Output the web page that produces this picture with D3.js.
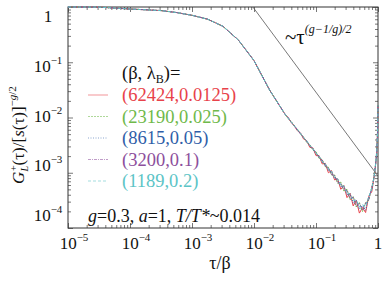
<!DOCTYPE html>
<html>
<head>
<meta charset="utf-8">
<script src="https://cdn.jsdelivr.net/npm/d3@7"></script>
<style>
    body { margin: 0; background: #fff; }
    svg { display: block; }
    svg text { font-family: "Liberation Serif", "Times New Roman", Times, "DejaVu Serif", serif; }
</style>
</head>
<body>
<svg id="chart" width="390" height="282"></svg>
<script>
// values: log10(tau/beta) and log10(G)
var headTau = [-5, -4.5, -4, -3.5, -3.25, -3, -2.75, -2.5, -2.25, -2, -1.75, -1.5];
var headLogG = [0, -0.002, -0.036, -0.065, -0.10, -0.15, -0.22, -0.35, -0.60, -0.97, -1.50, -1.94];

var tailTau = [-1.45, -1.4, -1.35, -1.3, -1.25, -1.2, -1.15, -1.1, -1.05, -1.0,
    -0.95, -0.9, -0.85, -0.8, -0.75, -0.7, -0.65, -0.6, -0.55, -0.5,
    -0.45, -0.4, -0.35, -0.3, -0.25, -0.2, -0.15, -0.1,
    -0.07, -0.05, -0.03, -0.02, -0.01, -0.005, 0];

var redTail = [-2.00, -2.09, -2.15, -2.24, -2.28, -2.39, -2.42, -2.54, -2.55, -2.69,
    -2.69, -2.84, -2.83, -3.00, -2.96, -3.13, -3.11, -3.30, -3.23, -3.45,
    -3.37, -3.60, -3.50, -3.73, -3.63, -3.72, -3.43, -3.34,
    -3.13, -2.98, -2.76, -2.61, -2.36, -2.15, -1.78];
var greenTail = [-2.02, -2.07, -2.16, -2.21, -2.30, -2.35, -2.45, -2.49, -2.59, -2.62,
    -2.74, -2.76, -2.89, -2.90, -3.04, -3.04, -3.19, -3.17, -3.33, -3.30,
    -3.49, -3.43, -3.62, -3.54, -3.70, -3.54, -3.50, -3.26,
    -3.11, -2.96, -2.75, -2.59, -2.35, -2.14, -1.77];
var blueTail = [-2.01, -2.09, -2.14, -2.23, -2.28, -2.37, -2.42, -2.52, -2.56, -2.66,
    -2.70, -2.81, -2.84, -2.96, -2.98, -3.10, -3.12, -3.25, -3.24, -3.40,
    -3.38, -3.55, -3.50, -3.66, -3.59, -3.68, -3.44, -3.30,
    -3.12, -2.97, -2.75, -2.60, -2.35, -2.15, -1.78];
var purpleTail = [-2.00, -2.08, -2.16, -2.22, -2.30, -2.36, -2.44, -2.50, -2.58, -2.63,
    -2.73, -2.77, -2.88, -2.91, -3.03, -3.05, -3.18, -3.19, -3.31, -3.32,
    -3.47, -3.44, -3.60, -3.55, -3.68, -3.55, -3.49, -3.27,
    -3.12, -2.96, -2.75, -2.60, -2.35, -2.15, -1.78];
var cyanTail = [-2.01, -2.08, -2.15, -2.22, -2.29, -2.37, -2.42, -2.51, -2.56, -2.65,
    -2.70, -2.80, -2.84, -2.94, -2.97, -3.09, -3.11, -3.23, -3.24, -3.37,
    -3.38, -3.51, -3.49, -3.62, -3.58, -3.61, -3.44, -3.29,
    -3.12, -2.97, -2.75, -2.60, -2.35, -2.15, -1.78];

var seriesNames = ["(62424,0.0125)", "(23190,0.025)", "(8615,0.05)", "(3200,0.1)", "(1189,0.2)"];
var seriesColors = ["#e8424a", "#6fb94a", "#2f5ea8", "#8d4f9c", "#5cc4c6"];
var seriesDash = [null, "2,1", "1,1.5", "3,1,1,1", "3,2"];
var seriesTails = [redTail, greenTail, blueTail, purpleTail, cyanTail];

// guide line ~ tau^((g-1/g)/2)
var guideTau = [0.0096, 1];
var guideG = [1, 8.7e-4];

var xMajor = [1e-5, 1e-4, 1e-3, 1e-2, 1e-1, 1];
var yMajor = [1, 1e-1, 1e-2, 1e-3, 1e-4];

var svg = d3.select("#chart");
var pL = 68, pR = 378, pT = 7, pB = 228;

var x = d3.scaleLog().domain([1e-5, 1]).range([pL, pR]);
var y = d3.scaleLog().domain([1e-4, 1]).range([pB, pT]);
// tick labels sit a bit apart from their ticks in the original
var yLab = d3.scaleLog().domain([1, 1e-4]).range([16, 215]);

function minorTicks(majors) {
    var out = [];
    majors.forEach(function (m) {
        for (var k = 1; k < 10; k++) out.push(m * k);
    });
    return out;
}
var xTicks = minorTicks(xMajor.slice(0, 5)).concat([1]);
var yTicks = minorTicks([1e-4, 1e-3, 1e-2, 1e-1]).concat([1]);
function isMajor(v) {
    var l = Math.log10(v);
    return Math.abs(l - Math.round(l)) < 1e-6;
}

// inward ticks on all four sides
var gB = svg.append("g").attr("transform", "translate(0," + pB + ")")
    .call(d3.axisBottom(x).tickValues(xTicks).tickFormat("").tickSizeOuter(0));
gB.selectAll(".tick line").attr("y2", function (d) { return isMajor(d) ? -5 : -3; });
var gT = svg.append("g").attr("transform", "translate(0," + pT + ")")
    .call(d3.axisTop(x).tickValues(xTicks).tickFormat("").tickSizeOuter(0));
gT.selectAll(".tick line").attr("y2", function (d) { return isMajor(d) ? 5 : 3; });
var gL = svg.append("g").attr("transform", "translate(" + pL + ",0)")
    .call(d3.axisLeft(y).tickValues(yTicks).tickFormat("").tickSizeOuter(0));
gL.selectAll(".tick line").attr("x2", function (d) { return isMajor(d) ? 5 : 3; });
var gR = svg.append("g").attr("transform", "translate(" + pR + ",0)")
    .call(d3.axisRight(y).tickValues(yTicks).tickFormat("").tickSizeOuter(0));
gR.selectAll(".tick line").attr("x2", function (d) { return isMajor(d) ? -5 : -3; });

[gB, gT, gL, gR].forEach(function (g) {
    g.select(".domain").remove();
    g.selectAll(".tick line").attr("stroke", "#555").attr("stroke-width", 0.8);
});

svg.append("rect")
    .attr("x", pL).attr("y", pT)
    .attr("width", pR - pL).attr("height", pB - pT)
    .attr("fill", "none").attr("stroke", "#333").attr("stroke-width", 1);

// power of ten labels
function powLabel(sel, v) {
    var e = Math.round(Math.log10(v));
    if (e === 0) { sel.text("1"); return; }
    sel.append("tspan").text("10");
    sel.append("tspan").attr("dy", -8).attr("font-size", 11).text("\u2212" + (-e));
}

xMajor.forEach(function (v) {
    var t = svg.append("text")
        .attr("x", x(v) + (v === 1 ? 0 : 6))
        .attr("y", 249)
        .attr("text-anchor", "middle")
        .attr("font-size", 17)
        .attr("fill", "#111");
    powLabel(t, v);
});

yMajor.forEach(function (v) {
    var t = svg.append("text")
        .attr("x", 48)
        .attr("y", yLab(v) + 6)
        .attr("text-anchor", "middle")
        .attr("font-size", 17)
        .attr("fill", "#111");
    powLabel(t, v);
});

// guide line
svg.append("path")
    .datum(guideTau.map(function (t, i) { return [t, guideG[i]]; }))
    .attr("fill", "none")
    .attr("stroke", "#555")
    .attr("stroke-width", 0.8)
    .attr("d", d3.line().x(function (d) { return x(d[0]); }).y(function (d) { return y(d[1]); }));

// data series
var line = d3.line()
    .x(function (d) { return x(d[0]); })
    .y(function (d) { return y(d[1]); });

var allTau = headTau.concat(tailTau);
seriesTails.forEach(function (tail, i) {
    var vals = headLogG.concat(tail);
    var pts = allTau.map(function (t, j) { return [Math.pow(10, t), Math.pow(10, vals[j])]; });
    svg.append("path")
        .datum(pts)
        .attr("fill", "none")
        .attr("stroke", seriesColors[i])
        .attr("stroke-width", 1)
        .attr("stroke-dasharray", seriesDash[i])
        .attr("d", line);
});

// legend
var lg = svg.append("g").attr("font-size", 18.5);
var head = lg.append("text").attr("x", 122).attr("y", 79).attr("fill", "#111");
head.append("tspan").text("(\u03b2, \u03bb");
head.append("tspan").attr("font-size", 12).attr("dy", 4).text("B");
head.append("tspan").attr("dy", -4).text(")=");

seriesNames.forEach(function (name, i) {
    var yy = 101 + i * 21.5;
    lg.append("line")
        .attr("x1", 88).attr("x2", 108)
        .attr("y1", yy - 6).attr("y2", yy - 6)
        .attr("stroke", seriesColors[i])
        .attr("stroke-width", 0.8)
        .attr("stroke-opacity", 0.7)
        .attr("stroke-dasharray", seriesDash[i]);
    lg.append("text")
        .attr("x", 122).attr("y", yy)
        .attr("fill", seriesColors[i])
        .text(name);
});

// parameter note
var note = svg.append("text").attr("x", 88).attr("y", 222).attr("font-size", 18).attr("fill", "#111");
note.append("tspan").attr("font-style", "italic").text("g");
note.append("tspan").text("=0.3, ");
note.append("tspan").attr("font-style", "italic").text("a");
note.append("tspan").text("=1, ");
note.append("tspan").attr("font-style", "italic").text("T/T*");
note.append("tspan").text("~0.014");

// power law annotation
var pw = svg.append("text").attr("x", 285).attr("y", 44).attr("font-size", 21).attr("fill", "#111");
pw.append("tspan").text("~\u03c4");
pw.append("tspan").attr("font-size", 12).attr("dy", -11).attr("font-style", "italic").text("(g\u22121/g)/2");

// axis titles
svg.append("text")
    .attr("x", 220).attr("y", 269)
    .attr("text-anchor", "middle")
    .attr("font-size", 18)
    .attr("fill", "#111")
    .text("\u03c4/\u03b2");

var yt = svg.append("text")
    .attr("transform", "translate(24,135) rotate(-90)")
    .attr("text-anchor", "middle")
    .attr("font-size", 17)
    .attr("fill", "#111");
yt.append("tspan").attr("font-style", "italic").text("G");
yt.append("tspan").attr("font-size", 10).attr("dy", 4).attr("font-style", "italic").text("L");
yt.append("tspan").attr("font-size", 10).attr("dx", -5).attr("dy", -11).text("+");
yt.append("tspan").attr("dy", 7).text("(\u03c4)/[");
yt.append("tspan").attr("font-style", "italic").text("s");
yt.append("tspan").text("(\u03c4)]");
yt.append("tspan").attr("font-size", 11).attr("dy", -8).text("\u2212");
yt.append("tspan").attr("font-size", 11).attr("font-style", "italic").text("g");
yt.append("tspan").attr("font-size", 11).text("/2");
</script>
</body>
</html>
